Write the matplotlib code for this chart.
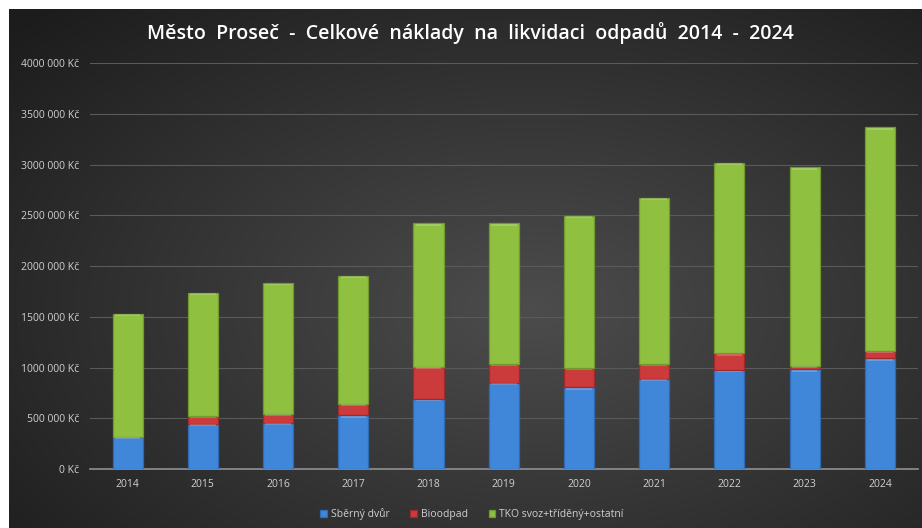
import numpy as np
import matplotlib.pyplot as plt
from matplotlib.ticker import FuncFormatter

years = ['2014', '2015', '2016', '2017', '2018', '2019', '2020', '2021', '2022', '2023', '2024']
sberny_dvur = [320000, 445000, 456000, 529000, 690000, 850000, 805000, 888000, 975000, 982000, 1090000]
bioodpad = [0, 77000, 89000, 114000, 318000, 184000, 190000, 146000, 165000, 36000, 73000]
tko = [1210000, 1215000, 1285000, 1262000, 1412000, 1386000, 1501000, 1639000, 1878000, 1954000, 2203000]

labels = ['Sběrný dvůr', 'Bioodpad', 'TKO svoz+tříděný+ostatní']
colors = ['#4087da', '#cc3b3b', '#90c040']
edges = ['#2e6ab5', '#a02a2a', '#6f9a2c']

plt.rcParams['font.family'] = ['Open Sans', 'DejaVu Sans']

fig = plt.figure(figsize=(9.22, 5.28), dpi=100)
fig.patch.set_facecolor('white')

# dark radial background of the chart area
bg = fig.add_axes([9/922, 0, 1 - 9/922, 1 - 9/528])
bg.set_axis_off()
yy, xx = np.mgrid[0:520, 0:913]
r = np.sqrt(((xx - 520) / 700.0) ** 2 + ((yy - 300) / 420.0) ** 2)
shade = np.clip(0.30 - 0.19 * r, 0.11, 0.30)
bg.imshow(np.dstack([shade, shade, shade]), aspect='auto', extent=[0, 1, 0, 1])

ax = fig.add_axes([90/922, 1 - 469/528, 827.5/922, 406/528])
ax.patch.set_alpha(0)


def kc(v, pos):
    v = int(v)
    if v == 0:
        return '0 Kč'
    return '%d %03d Kč' % (v // 1000, v % 1000)


x = np.arange(len(years))
bottom = np.zeros(len(years))
for vals, lab, col, ec in zip([sberny_dvur, bioodpad, tko], labels, colors, edges):
    vals = np.array(vals)
    ax.bar(x, vals, 0.4, bottom=bottom, color=col, label=lab,
           edgecolor=ec, linewidth=0.9, zorder=3)
    # light bevel on top of each segment
    ax.bar(x, np.where(vals > 0, 16000, 0), 0.34,
           bottom=bottom + vals - 22000, color='white', alpha=0.2,
           linewidth=0, zorder=4)
    bottom += vals

ax.set_xlim(-0.5, len(years) - 0.5)
ax.set_ylim(0, 4000000)
ax.set_yticks(np.arange(0, 4000001, 500000))
ax.yaxis.set_major_formatter(FuncFormatter(kc))
ax.set_xticks(x)
ax.set_xticklabels(years)
ax.tick_params(axis='both', colors='#d0d0d0', labelsize=7.5, length=0)
ax.tick_params(axis='y', pad=8)
ax.tick_params(axis='x', pad=7)
ax.grid(axis='y', color='#5a5a5a', linewidth=0.8, zorder=0)
for s in ['top', 'right', 'left']:
    ax.spines[s].set_visible(False)
ax.spines['bottom'].set_color('#909090')
ax.spines['bottom'].set_linewidth(1.2)

fig.text(470/922, 1 - 33/528, 'Město  Proseč  -  Celkové  náklady  na  likvidaci  odpadů  2014  -  2024',
         ha='center', va='center', color='white', fontsize=14, fontweight='semibold')

fig.legend(loc='center', bbox_to_anchor=(472/922, 1 - 514/528), ncol=3, frameon=False,
           fontsize=7.5, labelcolor='#d0d0d0', handlelength=0.6, handleheight=0.6,
           columnspacing=2.0, handletextpad=0.4)

fig.savefig('out.png', dpi=100)
